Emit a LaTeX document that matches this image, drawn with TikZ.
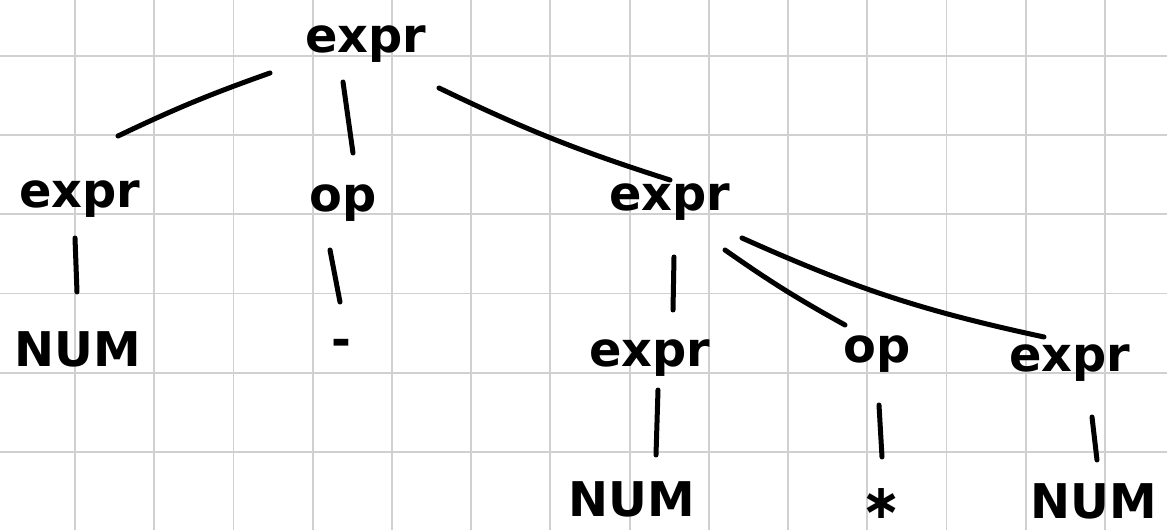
\documentclass[tikz,border=0pt]{standalone}
\usepackage{fontspec}
\setmainfont{DejaVu Sans}
\usetikzlibrary{calc}
\definecolor{gridgray}{RGB}{208,208,208}
\begin{document}
\begin{tikzpicture}[x=1bp,y=-1bp,
  lbl/.style={font=\fontsize{48}{50}\selectfont\bfseries, inner sep=0pt, anchor=base},
  edge/.style={line width=5bp, line cap=round},
  gridline/.style={line width=1.8bp, draw=gridgray}]
\useasboundingbox (0,0) rectangle (1167,530);
\fill[white] (0,0) rectangle (1167,530);
\foreach \i in {0,...,13} \draw[gridline] ({75+79.23*\i},0) -- ({75+79.23*\i},530);
\foreach \j in {0,...,6} \draw[gridline] (0,{56+79.2*\j}) -- (1167,{56+79.2*\j});

% nodes
\node[lbl] (root)  at (366,53)  {expr};
\node[lbl] (e1)    at (80,208)  {expr};
\node[lbl] (op1)   at (343,212) {op};
\node[lbl] (e2)    at (670,211) {expr};
\node[lbl] (num1)  at (78,367)  {NUM};
\node[lbl] (minus) at (341,357) {-};
\node[lbl] (e3)    at (650,367) {expr};
\node[lbl] (op2)   at (877,363) {op};
\node[lbl] (e4)    at (1070,372) {expr};
\node[lbl] (num2)  at (632,516) {NUM};
\node[lbl] (star)  at (882,518) {∗};
\node[lbl] (num3)  at (1094,518) {NUM};

% connectors
\draw[edge] ($(root.base)+(-96,20)$) to[bend right=3] ($(e1.base)+(38,-72)$);
\draw[edge] ($(root.base)+(-23,29)$) -- ($(op1.base)+(10,-59)$);
\draw[edge] ($(root.base)+(73,35)$) to[bend right=4] ($(e2.base)+(0,-31)$);
\draw[edge] ($(e1.base)+(-5,30)$) -- ($(num1.base)+(-1,-75)$);
\draw[edge] ($(op1.base)+(-13,38)$) -- ($(minus.base)+(-1,-55)$);
\draw[edge] ($(e2.base)+(4,46)$) -- ($(e3.base)+(23,-57)$);
\draw[edge] ($(e2.base)+(55,39)$) to[bend right=3] ($(op2.base)+(-32,-38)$);
\draw[edge] ($(e2.base)+(72,27)$) to[bend right=6] ($(e4.base)+(-26,-35)$);
\draw[edge] ($(e3.base)+(8,23)$) -- ($(num2.base)+(24,-61)$);
\draw[edge] ($(op2.base)+(2,42)$) -- ($(star.base)+(0,-61)$);
\draw[edge] ($(e4.base)+(22,45)$) -- ($(num3.base)+(3,-58)$);
\end{tikzpicture}
\end{document}
